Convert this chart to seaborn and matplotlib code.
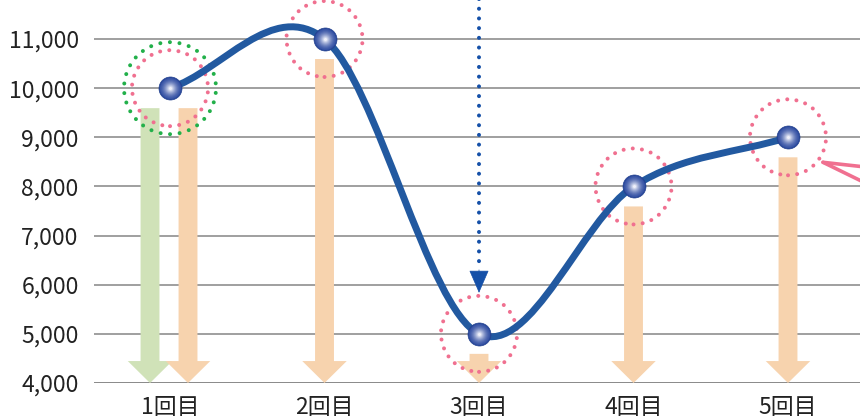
import numpy as np
import pandas as pd
import matplotlib
matplotlib.use("Agg")
import matplotlib.pyplot as plt
import seaborn as sns
from matplotlib.path import Path
from matplotlib.patches import PathPatch, FancyArrowPatch
from matplotlib.colors import to_rgb

categories = ["1回目", "2回目", "3回目", "4回目", "5回目"]
values = [10000, 11000, 5000, 8000, 9000]
y_ticks = [4000, 5000, 6000, 7000, 8000, 9000, 10000, 11000]
y_min, y_max = 4000, 11794

sns.set_theme(style="white")
plt.rcParams["font.family"] = ["Noto Sans CJK JP", "DejaVu Sans"]

df = pd.DataFrame({"x": np.arange(len(categories)), "value": values, "label": categories})

fig = plt.figure(figsize=(8.6, 4.16), dpi=100)
fig.patch.set_facecolor("white")
ax = fig.add_axes([94 / 860, 33 / 416, 766 / 860, 383 / 416])
ax.set_facecolor("white")
ax.set_xlim(-0.492, 4.466)
ax.set_ylim(y_min, y_max)

# grid
ax.set_yticks(y_ticks)
ax.set_yticklabels([f"{v:,}" for v in y_ticks])
ax.set_xticks(df["x"])
ax.set_xticklabels(categories)
for yv in y_ticks:
    ax.axhline(yv, color="#858585" if yv > y_min else "#6a6a6a", lw=1.1, zorder=0)
for s in ax.spines.values():
    s.set_visible(False)
ax.tick_params(axis="y", length=0, pad=11, labelsize=16.5, labelcolor="#222222")
ax.tick_params(axis="x", length=0, pad=9, labelsize=16.5, labelcolor="#222222")

px_per_x = 154.5
px_per_y = 0.04914
PT = 0.72  # points per pixel

# down arrows
def down_arrow(xpos, top, color):
    a = FancyArrowPatch(
        posA=(xpos, top), posB=(xpos, y_min),
        arrowstyle="simple,head_length=15.8,head_width=32,tail_width=13.6",
        mutation_scale=1, shrinkA=20 * PT, shrinkB=0,
        color=color, lw=0, zorder=2)
    ax.add_patch(a)

orange = "#f7d3ae"
green_fill = "#d0e2b8"
for i, v in enumerate(values):
    if i == 0:
        down_arrow(i - 20 / px_per_x, v, green_fill)
        down_arrow(i + 18 / px_per_x, v, orange)
    else:
        down_arrow(i, v, orange)

# dotted circles
pink = "#f07090"
sc = ax.scatter(df["x"], df["value"], s=(76 * PT) ** 2, facecolors="none",
                edgecolors=pink, linewidths=4.0 * PT, linestyle=(0, (0.01, 2.3)), zorder=3)
sc.set_capstyle("round")
sc2 = ax.scatter(df["x"][:1], df["value"][:1], s=(92 * PT) ** 2, facecolors="none",
                 edgecolors="#22b04a", linewidths=4.0 * PT, linestyle=(0, (0.01, 2.4)), zorder=3)
sc2.set_capstyle("round")

# smooth curve (Catmull-Rom as cubic Bezier)
xs = list(df["x"])
n = len(values)
m = []
for i in range(n):
    if i == 0:
        m.append(values[1] - values[0])
    elif i == n - 1:
        m.append(values[-1] - values[-2])
    else:
        m.append((values[i + 1] - values[i - 1]) / 2)
verts = [(xs[0], values[0])]
codes = [Path.MOVETO]
for i in range(n - 1):
    verts += [(xs[i] + 1 / 3, values[i] + m[i] / 3),
              (xs[i + 1] - 1 / 3, values[i + 1] - m[i + 1] / 3),
              (xs[i + 1], values[i + 1])]
    codes += [Path.CURVE4] * 3
curve = PathPatch(Path(verts, codes), fill=False, edgecolor="#2259a0", lw=5.0,
                  capstyle="round", joinstyle="round", zorder=4)
ax.add_patch(curve)

# blue dotted arrow to point 3
blue = "#1550a8"
tip_y = values[2] + 41 / px_per_y
base_y = tip_y + 21 / px_per_y
ax.plot([2, 2], [y_max + 50, base_y + 4 / px_per_y], color=blue, lw=2.9,
        linestyle=(0, (0.01, 2.4)), dash_capstyle="round", zorder=5)
head = FancyArrowPatch(
    posA=(2, base_y + 2 / px_per_y), posB=(2, tip_y),
    arrowstyle="-|>,head_length=15,head_width=6.5", mutation_scale=1,
    shrinkA=0, shrinkB=0, color=blue, lw=0.5, zorder=5)
ax.add_patch(head)

# pink callout lines at the right
apex = (4 + 35 / px_per_x, 9000 - 25 / px_per_y)
ends = [(4 + 80 / px_per_x, 9000 - 30 / px_per_y), (4 + 80 / px_per_x, 9000 - 47 / px_per_y)]
for e in ends:
    ax.plot([apex[0], e[0]], [apex[1], e[1]], color=pink, lw=2.6,
            solid_capstyle="round", zorder=3)

# spherical markers
sns.scatterplot(data=df, x="x", y="value", s=(23 * PT) ** 2, color="#27469a",
                edgecolor="#24428f", linewidth=0.5, zorder=6, ax=ax, legend=False)
c_out = np.array(to_rgb("#3552a4"))
c_in = np.array(to_rgb("#eef0fa"))
diams = [21, 19, 17, 15, 13, 11, 9, 7, 5, 3]
for k, d in enumerate(diams):
    t = (k + 1) / len(diams)
    col = c_out + (c_in - c_out) * t ** 1.6
    ax.scatter(df["x"], df["value"], s=(d * PT) ** 2, color=col, linewidths=0, zorder=6 + 0.01 * k)

ax.set_xlabel("")
ax.set_ylabel("")
fig.savefig("out.png", dpi=100, facecolor="white")
